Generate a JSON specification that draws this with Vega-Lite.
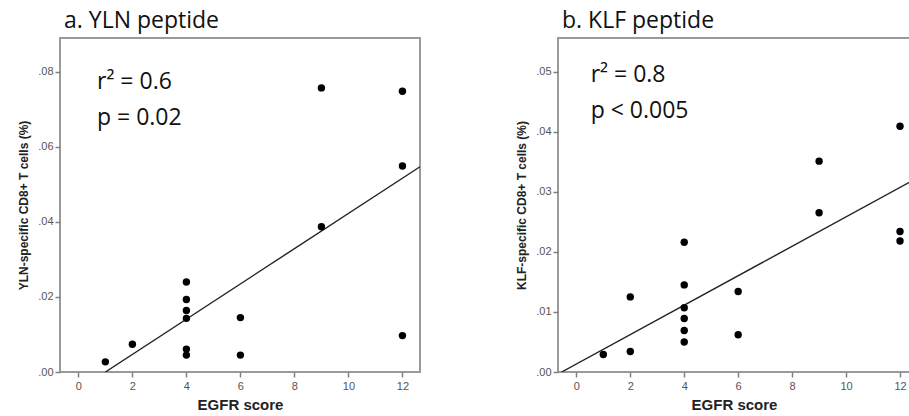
{
  "$schema": "https://vega.github.io/schema/vega-lite/v6.json",
  "background": "white",
  "padding": {"left": 16, "top": 9, "right": 0, "bottom": 0},
  "spacing": 138,
  "bounds": "flush",
  "config": {
    "view": {"stroke": "#9a9a9a", "strokeWidth": 2},
    "axis": {
      "domain": false,
      "grid": false,
      "tickColor": "#808080",
      "tickSize": 5,
      "tickWidth": 1.5,
      "labelFont": "Liberation Sans",
      "labelFontSize": 11,
      "labelColor": "#555555",
      "titleFont": "Liberation Sans",
      "titleFontWeight": "bold",
      "titleColor": "#222222"
    },
    "title": {"font": "Open Sans", "fontSize": 23, "fontWeight": "normal", "color": "#111111", "anchor": "start", "frame": "group", "baseline": "alphabetic", "offset": 5, "dx": 4}
  },
  "datasets": {
    "pts_a": [
      {"x": 1, "y": 0.0027}, {"x": 2, "y": 0.0074},
      {"x": 4, "y": 0.0240}, {"x": 4, "y": 0.0193}, {"x": 4, "y": 0.0164}, {"x": 4, "y": 0.0143}, {"x": 4, "y": 0.0061}, {"x": 4, "y": 0.0045},
      {"x": 6, "y": 0.0145}, {"x": 6, "y": 0.0045},
      {"x": 9, "y": 0.0757}, {"x": 9, "y": 0.0387},
      {"x": 12, "y": 0.0748}, {"x": 12, "y": 0.0549}, {"x": 12, "y": 0.0097}
    ],
    "fit_a": [{"x": 1.0, "y": 0.0}, {"x": 12.65, "y": 0.0547}],
    "txt_a": [{"x": 0.69, "y": 0.0754, "label": "r² = 0.6"}, {"x": 0.69, "y": 0.0658, "label": "p = 0.02"}],
    "pts_b": [
      {"x": 1, "y": 0.0029}, {"x": 2, "y": 0.0125}, {"x": 2, "y": 0.0034},
      {"x": 4, "y": 0.0216}, {"x": 4, "y": 0.0145}, {"x": 4, "y": 0.0107}, {"x": 4, "y": 0.0089}, {"x": 4, "y": 0.0069}, {"x": 4, "y": 0.0050},
      {"x": 6, "y": 0.0134}, {"x": 6, "y": 0.0062},
      {"x": 9, "y": 0.0351}, {"x": 9, "y": 0.0265},
      {"x": 12, "y": 0.0409}, {"x": 12, "y": 0.0234}, {"x": 12, "y": 0.0218}
    ],
    "fit_b": [{"x": -0.545, "y": 0.0}, {"x": 12.4, "y": 0.0317}],
    "txt_b": [{"x": 0.53, "y": 0.0482, "label": "r² = 0.8"}, {"x": 0.53, "y": 0.0423, "label": "p < 0.005"}]
  },
  "hconcat": [
    {
      "width": 360,
      "height": 334,
      "title": "a. YLN peptide",
      "encoding": {
        "x": {"field": "x", "type": "quantitative", "scale": {"domain": [-0.68, 12.65], "nice": false, "zero": false},
              "axis": {"values": [0, 2, 4, 6, 8, 10, 12], "title": "EGFR score", "titleFontSize": 15, "labelPadding": 3, "titlePadding": 6}},
        "y": {"field": "y", "type": "quantitative", "scale": {"domain": [0, 0.089], "nice": false},
              "axis": {"values": [0, 0.02, 0.04, 0.06, 0.08], "labelExpr": "substring(format(datum.value, '.2f'), 1)", "title": "YLN-specific CD8+ T cells (%)", "titleFontSize": 12, "labelPadding": 2, "titlePadding": 7}}
      },
      "layer": [
        {"data": {"name": "fit_a"}, "mark": {"type": "line", "color": "#222222", "strokeWidth": 1.4, "clip": true}},
        {"data": {"name": "pts_a"}, "mark": {"type": "point", "filled": true, "color": "black", "opacity": 1, "size": 55}},
        {"data": {"name": "txt_a"}, "mark": {"type": "text", "font": "Open Sans", "fontSize": 23, "align": "left", "baseline": "alphabetic", "color": "#111111"}, "encoding": {"text": {"field": "label"}}}
      ]
    },
    {
      "width": 352,
      "height": 334,
      "title": "b. KLF peptide",
      "encoding": {
        "x": {"field": "x", "type": "quantitative", "scale": {"domain": [-0.68, 12.37], "nice": false, "zero": false},
              "axis": {"values": [0, 2, 4, 6, 8, 10, 12], "title": "EGFR score", "titleFontSize": 15, "labelPadding": 3, "titlePadding": 6}},
        "y": {"field": "y", "type": "quantitative", "scale": {"domain": [0, 0.0556], "nice": false},
              "axis": {"values": [0, 0.01, 0.02, 0.03, 0.04, 0.05], "labelExpr": "substring(format(datum.value, '.2f'), 1)", "title": "KLF-specific CD8+ T cells (%)", "titleFontSize": 12, "labelPadding": 2, "titlePadding": 7}}
      },
      "layer": [
        {"data": {"name": "fit_b"}, "mark": {"type": "line", "color": "#222222", "strokeWidth": 1.4, "clip": true}},
        {"data": {"name": "pts_b"}, "mark": {"type": "point", "filled": true, "color": "black", "opacity": 1, "size": 55, "clip": true}},
        {"data": {"name": "txt_b"}, "mark": {"type": "text", "font": "Open Sans", "fontSize": 23, "align": "left", "baseline": "alphabetic", "color": "#111111"}, "encoding": {"text": {"field": "label"}}}
      ]
    }
  ]
}
